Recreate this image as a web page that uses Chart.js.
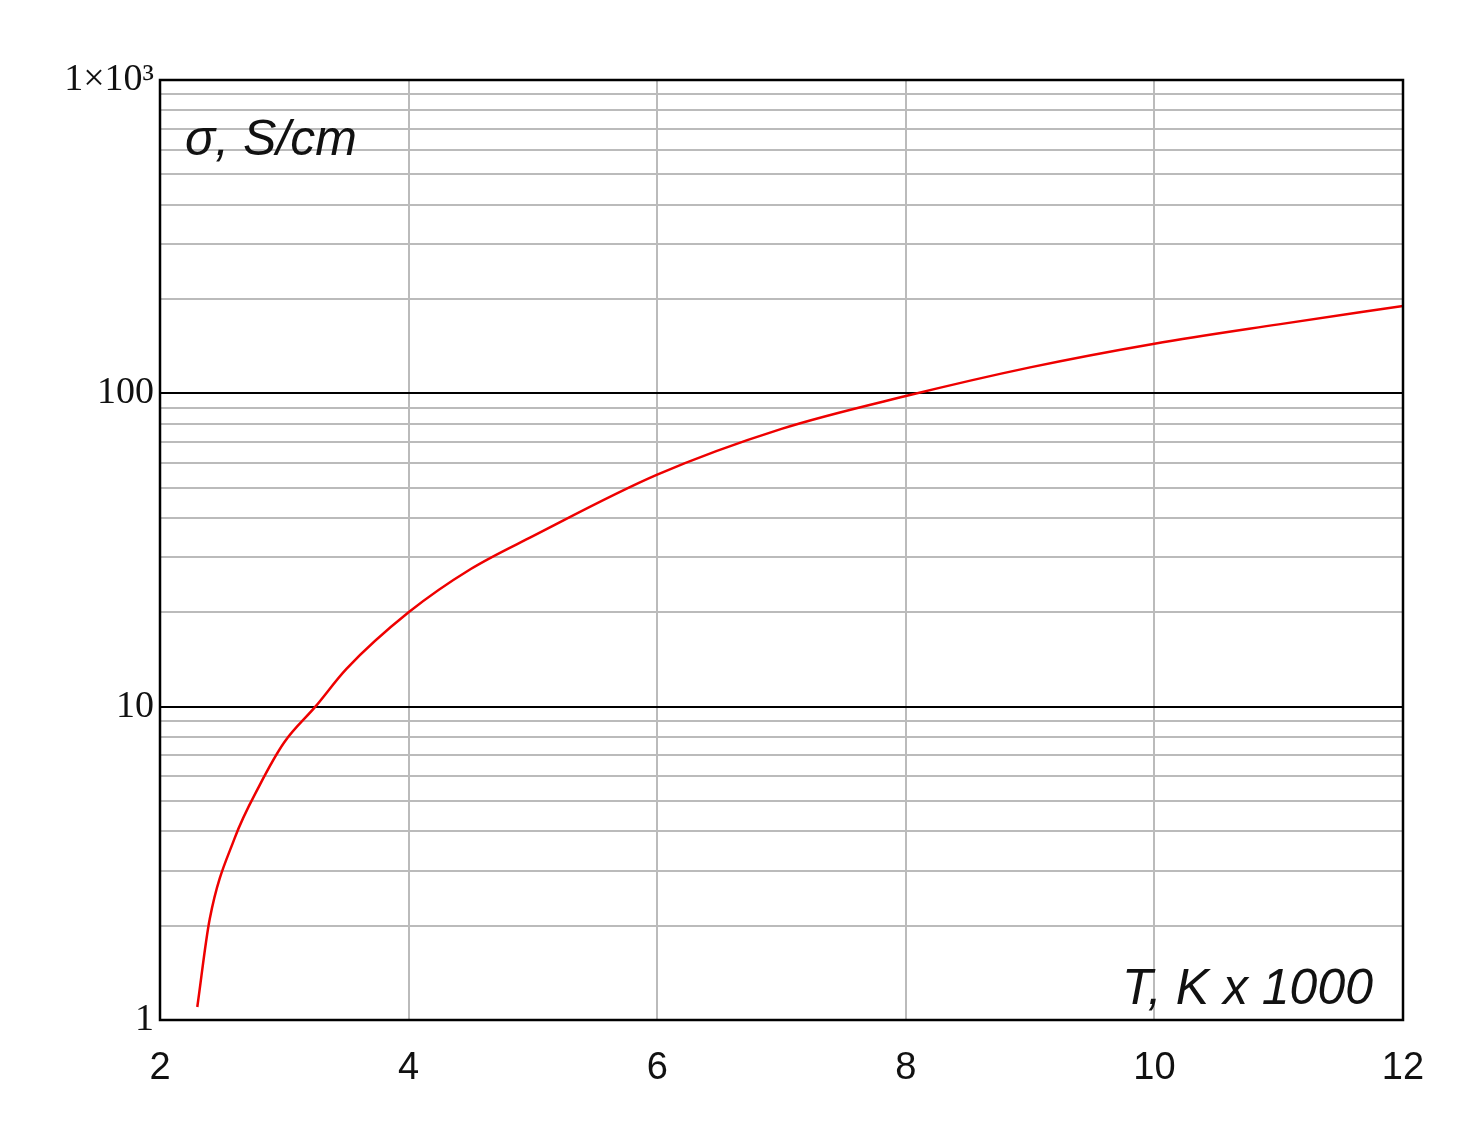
<!DOCTYPE html>
<html>
<head>
<meta charset="utf-8">
<script src="https://cdn.jsdelivr.net/npm/chart.js@4"></script>
<style>
  html, body { margin: 0; background: #fff; }
  #wrap { width: 1477px; height: 1121px; }
</style>
</head>
<body>
<div id="wrap"><canvas id="sigmaChart"></canvas></div>
<script>
// temperature, K x 1000
const temps = [2.3, 2.4, 2.6, 2.8, 3.0, 3.25, 3.5, 4, 4.5, 5, 6, 7, 8, 9, 10, 11, 12];
// conductivity, S/cm
const sigma = [1.1, 2.1, 3.8, 5.6, 7.7, 10, 13.2, 20, 27.5, 35, 55, 77, 98, 121, 144, 166, 190];
const xTicks = [2, 4, 6, 8, 10, 12];
const yLabels = { 1: "1", 10: "10", 100: "100", 1000: "1×10³" };

const logTicks = [];
for (let d = 1; d < 1000; d *= 10) {
  for (let m = 1; m < 10; m++) logTicks.push(m * d);
}
logTicks.push(1000);

const innerText = {
  id: "innerText",
  afterDraw(chart) {
    const { ctx, chartArea: a } = chart;
    ctx.save();
    ctx.fillStyle = "#111";
    ctx.font = "italic 50px 'Liberation Sans', Arial";
    ctx.textBaseline = "alphabetic";
    ctx.textAlign = "left";
    ctx.fillText("σ, S/cm", a.left + 25, a.top + 75);
    ctx.textAlign = "right";
    ctx.fillText("T, K x 1000", a.right - 30, a.bottom - 16);
    ctx.restore();
  }
};

new Chart(document.getElementById("sigmaChart"), {
  type: "line",
  data: {
    datasets: [{
      data: temps.map((t, i) => ({ x: t, y: sigma[i] })),
      borderColor: "#ee0000",
      borderWidth: 2.5,
      pointRadius: 0,
      cubicInterpolationMode: "monotone",
      fill: false
    }]
  },
  options: {
    responsive: true,
    maintainAspectRatio: false,
    animation: false,
    layout: { padding: { top: 80, right: 74, left: 0, bottom: 0 } },
    plugins: { legend: { display: false }, tooltip: { enabled: false } },
    scales: {
      x: {
        type: "linear",
        min: 2, max: 12,
        afterBuildTicks: s => { s.ticks = xTicks.map(v => ({ value: v })); },
        afterFit: s => { s.height = 101; },
        border: { color: "#000", width: 2 },
        grid: { color: "#bbb", lineWidth: 2, drawTicks: false },
        ticks: { color: "#111", padding: 26, font: { size: 38, family: "'Liberation Sans', Arial" } }
      },
      y: {
        type: "logarithmic",
        min: 1, max: 1000,
        afterBuildTicks: s => { s.ticks = logTicks.map(v => ({ value: v })); },
        afterFit: s => { s.width = 160; },
        border: { color: "#000", width: 2 },
        grid: {
          drawTicks: false,
          lineWidth: 2,
          color: c => [1, 10, 100, 1000].includes(c.tick.value) ? "#000" : "#bbb"
        },
        ticks: {
          autoSkip: false,
          color: "#111",
          padding: 6,
          font: { size: 38, family: "'Liberation Serif', serif" },
          callback: v => yLabels[v] || ""
        }
      }
    }
  },
  plugins: [innerText, {
    id: "frame",
    afterDraw(chart) {
      const { ctx, chartArea: a } = chart;
      ctx.save();
      ctx.strokeStyle = "#000";
      ctx.lineWidth = 2.5;
      ctx.strokeRect(a.left, a.top, a.right - a.left, a.bottom - a.top);
      ctx.restore();
    }
  }]
});
</script>
</body>
</html>
